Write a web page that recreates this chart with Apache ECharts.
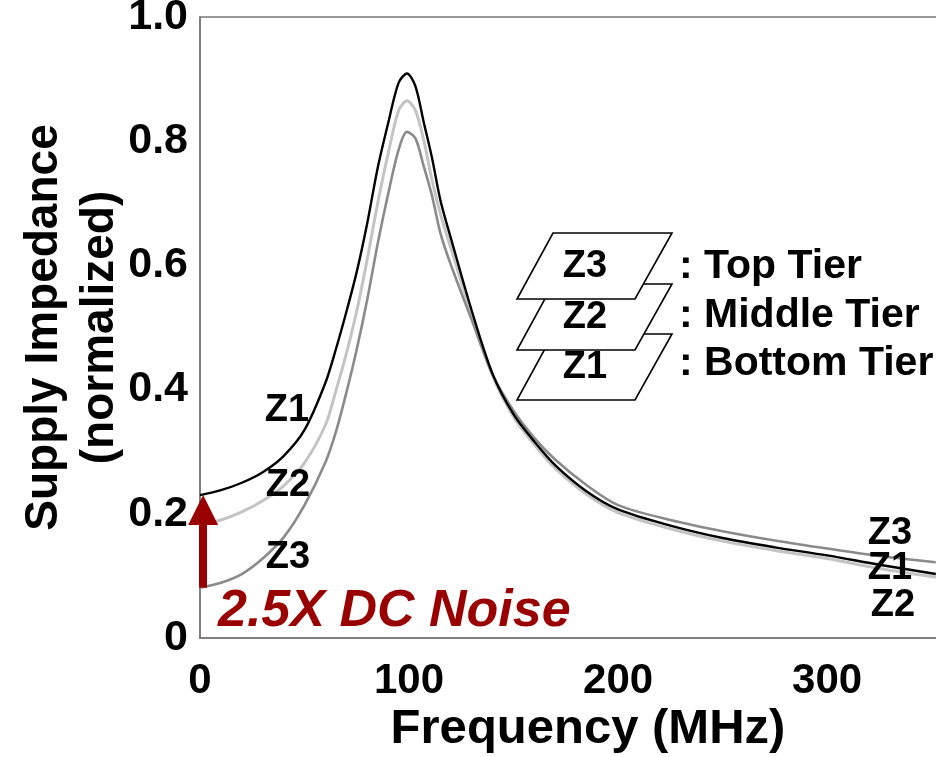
<!DOCTYPE html>
<html>
<head>
<meta charset="utf-8">
<script src="https://cdn.jsdelivr.net/npm/echarts@6/dist/echarts.min.js"></script>
<style>html,body{margin:0;padding:0;background:#fff}#c{width:936px;height:757px}</style>
</head>
<body>
<div id="c"></div>
<script>
// Frequency (MHz)
const freq = [0,10,20,30,40,50,60,65,70,75,80,85,90,95,99,103,107,111,115,120,130,140,150,160,170,185,200,225,250,275,300,325,352];
// Z1: bottom tier (black)
const z1 = [0.230,0.238,0.250,0.267,0.293,0.335,0.411,0.465,0.525,0.590,0.668,0.757,0.829,0.894,0.909,0.889,0.831,0.773,0.705,0.644,0.527,0.425,0.360,0.316,0.278,0.236,0.207,0.181,0.161,0.146,0.133,0.118,0.103];
// Z2: middle tier (light gray)
const z2 = [0.182,0.190,0.203,0.221,0.245,0.282,0.343,0.398,0.458,0.527,0.610,0.700,0.780,0.849,0.865,0.850,0.802,0.737,0.683,0.628,0.520,0.422,0.356,0.311,0.273,0.231,0.202,0.176,0.156,0.141,0.128,0.112,0.098];
// Z3: top tier (mid gray)
const z3 = [0.081,0.089,0.103,0.128,0.162,0.214,0.283,0.332,0.395,0.465,0.545,0.635,0.715,0.786,0.815,0.805,0.760,0.712,0.652,0.601,0.512,0.424,0.366,0.322,0.287,0.246,0.214,0.190,0.172,0.157,0.144,0.132,0.122];
const xTicks = [0,100,200,300];
const yTicks = ['0','0.2','0.4','0.6','0.8','1.0'];
const dcLow = 0.081, dcHigh = 0.230;

const FONT = '"Liberation Sans", Arial, sans-serif';
const pairs = a => freq.map((f,i)=>[f,a[i]]);

const chart = echarts.init(document.getElementById('c'), null, {renderer:'canvas'});

function para(x, y){
  return [[x+36,y],[x+155,y],[x+118,y+66],[x,y+66]];
}
const tierShapes = [
  {y:334, label:'Z1'},
  {y:284, label:'Z2'},
  {y:233, label:'Z3'}
];
const graphics = [];
tierShapes.forEach(t=>{
  graphics.push({type:'polygon', z:100, shape:{points:para(517,t.y)}, style:{fill:'#fff', stroke:'#000', lineWidth:1.6}});
  graphics.push({type:'text', z:101, x:585, y:t.y+34, style:{text:t.label, font:'bold 38px '+FONT, fill:'#000', textAlign:'center', textVerticalAlign:'middle'}});
});
[[': Top Tier',267],[': Middle Tier',316],[': Bottom Tier',364]].forEach(([s,y])=>{
  graphics.push({type:'text', z:101, x:679, y:y, style:{text:s, font:'bold 41px '+FONT, fill:'#000', textAlign:'left', textVerticalAlign:'middle'}});
});
[['Z1',287,411],['Z2',288,486],['Z3',288,558],['Z3',890,534],['Z1',890,569],['Z2',893,606]].forEach(([s,x,y])=>{
  graphics.push({type:'text', z:101, x:x, y:y, style:{text:s, font:'bold 38px '+FONT, fill:'#000', textAlign:'center', textVerticalAlign:'middle'}});
});
graphics.push({type:'text', z:101, x:218, y:612, style:{text:'2.5X DC Noise', font:'italic bold 52px '+FONT, fill:'#990000', textAlign:'left', textVerticalAlign:'middle'}});

chart.setOption({
  animation:false,
  backgroundColor:'#fff',
  grid:{left:200, right:-4, top:17, bottom:119, containLabel:false, outerBoundsMode:'none',
    show:true, borderColor:'#777', borderWidth:1.5, backgroundColor:'transparent'},
  xAxis:{
    type:'value', min:0, max:354, interval:100,
    name:'Frequency (MHz)', nameLocation:'middle', nameGap:67, nameMoveOverlap:false,
    nameTextStyle:{fontFamily:FONT, fontWeight:'bold', fontSize:49, color:'#000', padding:[0,0,0,36]},
    axisLine:{show:true, lineStyle:{color:'#777', width:1.5}},
    axisTick:{show:false}, splitLine:{show:false},
    axisLabel:{fontFamily:FONT, fontWeight:'bold', fontSize:42, color:'#000', margin:22, showMaxLabel:false,
      formatter:v=> xTicks.indexOf(v)>=0 ? String(v) : ''}
  },
  yAxis:{
    type:'value', min:0, max:1, interval:0.2,
    name:'Supply Impedance\n(normalized)', nameLocation:'middle', nameGap:72, nameRotate:90, nameMoveOverlap:false,
    nameTextStyle:{fontFamily:FONT, fontWeight:'bold', fontSize:46, color:'#000', lineHeight:56},
    axisLine:{show:true, lineStyle:{color:'#777', width:1.5}},
    axisTick:{show:false}, splitLine:{show:false},
    axisLabel:{fontFamily:FONT, fontWeight:'bold', fontSize:43, color:'#000', margin:12, padding:[8,0,0,0],
      formatter:v=> yTicks[Math.round(v/0.2)]}
  },
  series:[
    {name:'Z2', type:'line', data:pairs(z2), smooth:0.3, showSymbol:false, lineStyle:{color:'#c4c4c4', width:3}, z:2},
    {name:'Z3', type:'line', data:pairs(z3), smooth:0.3, showSymbol:false, lineStyle:{color:'#8a8a8a', width:2.6}, z:3},
    {name:'Z1', type:'line', data:pairs(z1), smooth:0.3, showSymbol:false, lineStyle:{color:'#000', width:2.4}, z:4,
      markLine:{silent:true, symbol:['none','triangle'], symbolSize:[30,30], animation:false,
        label:{show:false}, lineStyle:{color:'#990000', width:8, type:'solid'},
        emphasis:{disabled:true},
        data:[[{coord:[1.5,dcLow]},{coord:[1.5,dcHigh-0.024]}]]}
    }
  ],
  graphic:graphics
});
</script>
</body>
</html>
